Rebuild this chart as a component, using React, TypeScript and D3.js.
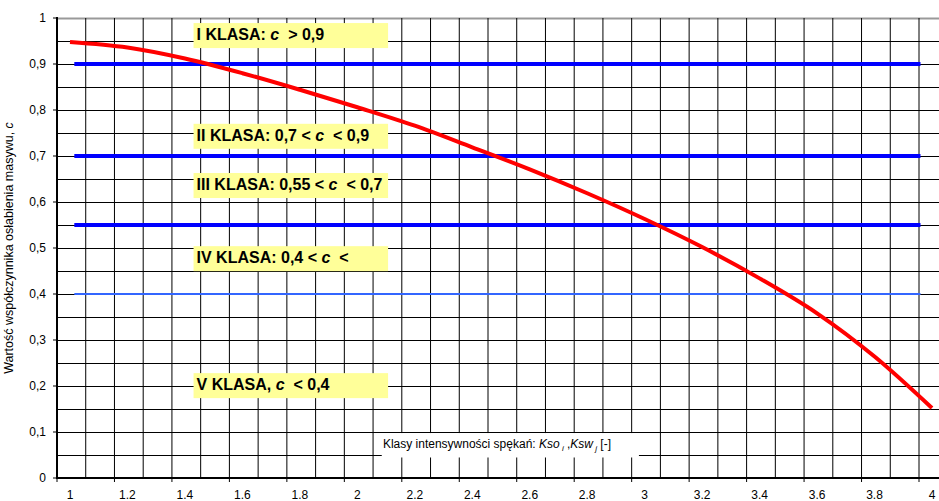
import React from "react";
import * as d3 from "d3";

const X_LABELS = ["1", "1.2", "1.4", "1.6", "1.8", "2", "2.2", "2.4", "2.6", "2.8", "3", "3.2", "3.4", "3.6", "3.8", "4"];
const X_VALUES = [1, 1.2, 1.4, 1.6, 1.8, 2, 2.2, 2.4, 2.6, 2.8, 3, 3.2, 3.4, 3.6, 3.8, 4];
const CURVE_C = [0.948, 0.936, 0.912, 0.88, 0.844, 0.806, 0.766, 0.719, 0.671, 0.619, 0.563, 0.502, 0.434, 0.358, 0.264, 0.152];
const Y_TICKS = [0, 0.1, 0.2, 0.3, 0.4, 0.5, 0.6, 0.7, 0.8, 0.9, 1];
const Y_TICK_LABELS = ["0", "0,1", "0,2", "0,3", "0,4", "0,5", "0,6", "0,7", "0,8", "0,9", "1"];
const LEVELS = [0.9, 0.7, 0.55, 0.4];
const LEVEL_RANGE = [1.015, 3.96];
const CLASS_PRE = ["I KLASA: ", "II KLASA: 0,7 < ", "III KLASA: 0,55 < ", "IV KLASA: 0,4 < ", "V KLASA, "];
const CLASS_POST = [" > 0,9", " < 0,9", " < 0,7", " <", " < 0,4"];
const CLASS_TOP = [0.989, 0.77, 0.663, 0.504, 0.228];
const CLASS_X = [1.43, 2.107];
const Y_TITLE = "Wartość współczynnika osłabienia masywu, ";
const X_TITLE = "Klasy intensywności spękań: ";

const W = 939;
const H = 501;
const FONT = "'Liberation Sans', Arial, sans-serif";

export default function App() {
  const x = d3.scaleLinear().domain([1, 4]).range([70, 932]);
  const y = d3.scaleLinear().domain([0, 1]).range([478, 18]);
  const left = 57;
  const xMin = x.invert(left);
  const right = W + 10;

  const vGrid: number[] = [];
  for (let k = 0; k < 40; k++) {
    const px = x(xMin + 0.1 * k);
    if (px > left + 1 && px < right) vGrid.push(px);
  }
  const hGrid: number[] = [];
  for (let k = 1; k <= 20; k++) hGrid.push(Math.round(y(0.05 * k)) + 0.5);
  const xTicks: number[] = [];
  for (let k = 0; k < 20; k++) {
    const px = x(xMin + 0.2 * k);
    if (px < right) xTicks.push(px);
  }

  const line = d3
    .line<number>()
    .x((_, i) => x(X_VALUES[i]))
    .y((d) => y(d))
    .curve(d3.curveMonotoneX);

  const boxH = 25;

  return (
    <div style={{ position: "absolute", left: 0, top: 0 }}>
      <svg width={W} height={H} style={{ display: "block", background: "#fff" }} fontFamily={FONT}>
        <rect x={0} y={0} width={W} height={H} fill="#fff" />
        {/* grid */}
        {hGrid.map((py, i) => (
          <line key={"h" + i} x1={left} x2={right} y1={py} y2={py} stroke={i === 19 ? "#999" : "#000"} strokeWidth={i === 19 ? 2 : 1} />
        ))}
        {vGrid.map((px, i) => (
          <line key={"v" + i} x1={px} x2={px} y1={y(1)} y2={y(0)} stroke="#000" strokeWidth={1} />
        ))}
        {/* class labels */}
        {CLASS_PRE.map((pre, i) => {
          const top = y(CLASS_TOP[i]);
          return (
            <g key={"c" + i}>
              <rect x={x(CLASS_X[0])} y={top} width={x(CLASS_X[1]) - x(CLASS_X[0])} height={boxH} fill="#FFFF99" />
              <text x={x(CLASS_X[0]) + 3} y={top + 17} fontSize={16} fontWeight="bold" fill="#000" style={{ whiteSpace: "pre" }}>
                <tspan>{pre}</tspan>
                <tspan fontStyle="italic">c</tspan>
                <tspan>{" " + CLASS_POST[i]}</tspan>
              </text>
            </g>
          );
        })}
        {/* level lines */}
        {LEVELS.map((lv, i) => (
          <line
            key={"l" + i}
            x1={x(LEVEL_RANGE[0])}
            x2={x(LEVEL_RANGE[1])}
            y1={y(lv)}
            y2={y(lv)}
            stroke={i === 3 ? "#3366FF" : "#0000FF"}
            strokeWidth={i === 3 ? 2 : 4}
          />
        ))}
        {/* curve */}
        <path d={line(CURVE_C) || ""} fill="none" stroke="#FF0000" strokeWidth={4} />
        {/* x title box */}
        <rect x={x(2.085)} y={y(0.0977)} width={x(2.98) - x(2.085)} height={y(0.0446) - y(0.0977)} fill="#fff" />
        <text x={x(2.089)} y={y(0.065)} fontSize={12} fill="#000" style={{ whiteSpace: "pre" }}>
          <tspan>{X_TITLE}</tspan>
          <tspan fontStyle="italic">Kso</tspan>
          <tspan fontStyle="italic" fontSize={8} dy={3}>{" i"}</tspan>
          <tspan dy={-3}>{" ,"}</tspan>
          <tspan fontStyle="italic">Ksw</tspan>
          <tspan fontStyle="italic" fontSize={8} dy={3}>{" j"}</tspan>
          <tspan dy={-3}>{" [-]"}</tspan>
        </text>
        {/* axes */}
        <line x1={left} x2={left} y1={y(1) - 1} y2={y(0) + 1} stroke="#000" strokeWidth={2} />
        <line x1={left} x2={right} y1={y(0)} y2={y(0)} stroke="#000" strokeWidth={2} />
        {Y_TICKS.map((t, i) => (
          <g key={"yt" + i}>
            <line x1={left - 4} x2={left} y1={y(t)} y2={y(t)} stroke="#000" strokeWidth={1} />
            <text x={left - 11} y={y(t) + 4} fontSize={12} textAnchor="end" fill="#000">
              {Y_TICK_LABELS[i]}
            </text>
          </g>
        ))}
        {xTicks.map((px, i) => (
          <line key={"xt" + i} x1={px} x2={px} y1={y(0)} y2={y(0) + 4} stroke="#000" strokeWidth={1} />
        ))}
        {X_LABELS.map((lab, i) => (
          <text key={"xl" + i} x={x(X_VALUES[i])} y={499} fontSize={12} textAnchor="middle" fill="#000">
            {lab}
          </text>
        ))}
        <text transform={`translate(13,${(y(0) + y(1)) / 2}) rotate(-90)`} fontSize={12.5} textAnchor="middle" fill="#000" style={{ whiteSpace: "pre" }}>
          <tspan>{Y_TITLE}</tspan>
          <tspan fontStyle="italic">c</tspan>
        </text>
      </svg>
    </div>
  );
}
